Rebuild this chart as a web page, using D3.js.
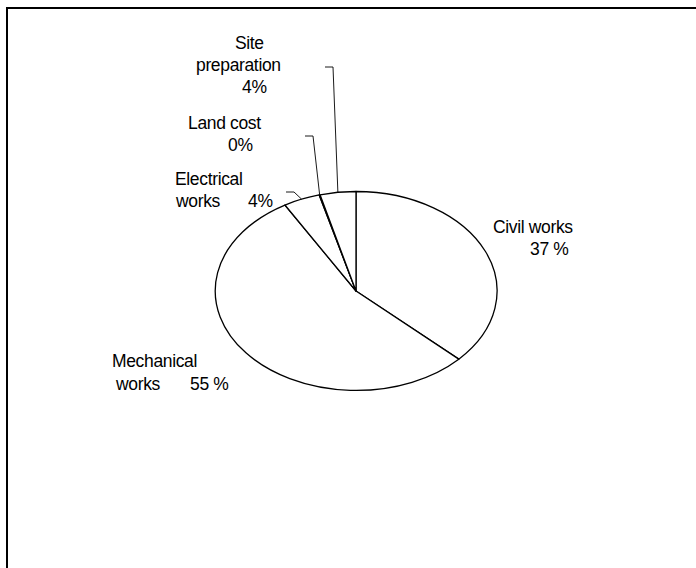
<!DOCTYPE html>
<html><head><meta charset="utf-8">
<script src="https://cdn.jsdelivr.net/npm/d3@7"></script>
<style>
html,body{margin:0;padding:0;background:#fff;}
svg{display:block;}
text{font-family:"Liberation Sans",Arial,sans-serif;font-size:17.5px;letter-spacing:-0.35px;fill:#000;}
</style></head><body>
<script>
// ---- data ----
const categories = ["Civil works", "Mechanical works", "Electrical works", "Land cost", "Site preparation"];
const values = [37.0, 54.6, 4.2, 0.1, 4.1];
const labelTexts = ["37 %", "55 %", "4%", "0%", "4%"];

// ---- layout (positions only) ----
const W = 696, H = 568;
const cx = 356, cy = 291, rx = 141, ry = 99.5;
// label lines: [text, x, y]
const labelLines = [
  [["Civil works", 493, 233], ["37 %", 530, 255]],
  [["Mechanical", 112, 367], ["works", 116, 390], ["55 %", 190, 390]],
  [["Electrical", 175, 185], ["works", 176, 207], ["4%", 248, 207]],
  [["Land cost", 188, 129], ["0%", 228, 151]],
  [["Site", 235, 49], ["preparation", 196, 71], ["4%", 242, 93]]
];
// leader end points (null = none)
const leaderEnds = [null, null, [286, 192], [305, 136], [325, 67]];

const svg = d3.select("body").append("svg").attr("width", W).attr("height", H);

// frame
svg.append("path").attr("d", `M7,${H+5}V8H${W+5}`).attr("fill","none").attr("stroke","#000").attr("stroke-width",2);

const pie = d3.pie().sort(null).value(d => d)(values);
const arc = d3.arc().innerRadius(0).outerRadius(1);

const g = svg.append("g").attr("transform", `translate(${cx},${cy}) scale(${rx},${ry})`);
g.selectAll("path.slice").data(pie).enter().append("path")
  .attr("class","slice")
  .attr("d", arc)
  .attr("fill","#fff")
  .attr("stroke","#000")
  .attr("stroke-width",1.3)
  .attr("vector-effect","non-scaling-stroke")
  .attr("stroke-linejoin","round");

// leader lines
pie.forEach((p, i) => {
  const e = leaderEnds[i];
  if (!e) return;
  const a = (p.startAngle + p.endAngle) / 2;
  const px = cx + rx * Math.sin(a), py = cy - ry * Math.cos(a);
  const elbowX = e[0] + 8;
  svg.append("path")
    .attr("d", `M${px},${py}L${elbowX},${e[1]}L${e[0]},${e[1]}`)
    .attr("fill","none").attr("stroke","#000").attr("stroke-width",0.9);
});

// labels
categories.forEach((c, i) => {
  labelLines[i].forEach(l => {
    svg.append("text").attr("x", l[1]).attr("y", l[2]).text(l[0]);
  });
});
</script>
</body></html>
